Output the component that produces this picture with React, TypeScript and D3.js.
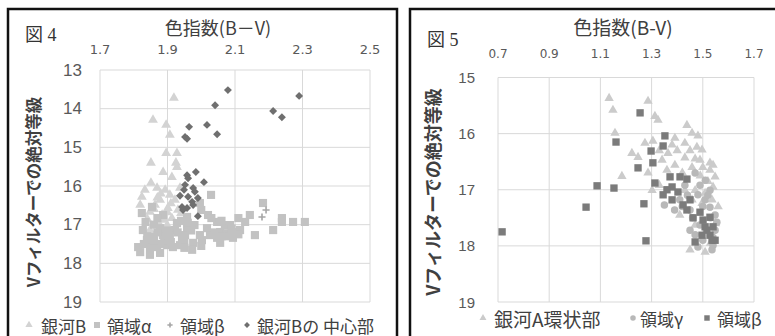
import React, { useEffect, useRef } from 'react';
import * as d3 from 'd3';

type Pt = [number, number];

// 図4 axes
const fig4XTicks = [1.7, 1.9, 2.1, 2.3, 2.5];
const fig4YTicks = [13, 14, 15, 16, 17, 18, 19];

// 図4 series: [B-V, V magnitude]
const galaxyB: Pt[] = [
  [1.919, 13.72], [1.857, 14.29], [1.896, 14.42], [1.907, 14.68], [1.896, 15.15],
  [1.928, 15.15], [1.851, 15.4], [1.925, 15.4], [1.928, 15.51], [1.887, 15.64],
  [1.851, 15.92], [1.913, 15.77], [1.869, 16.05], [1.824, 16.28], [1.893, 16.1],
  [1.907, 16.23], [1.878, 16.36], [1.922, 16.36], [1.863, 16.49], [1.901, 16.57],
  [1.931, 16.62], [1.848, 16.67], [1.884, 16.75], [1.913, 16.83], [1.872, 16.93],
  [1.937, 16.05], [1.833, 16.1], [1.899, 17.01], [1.922, 17.09], [1.848, 17.14],
  [1.819, 16.49], [1.952, 16.93], [1.88, 16.2], [1.91, 16.45], [1.86, 16.6],
  [1.89, 16.88], [1.94, 16.7], [1.84, 16.85], [1.87, 16.3], [1.9, 16.68],
];

const regionAlpha: Pt[] = [
  [1.819, 17.71], [1.848, 17.78], [1.878, 17.73], [1.869, 17.58], [1.899, 17.53],
  [1.916, 17.58], [1.839, 17.4], [1.857, 17.32], [1.887, 17.27], [1.943, 17.34],
  [1.976, 17.47], [1.973, 17.65], [2.002, 17.4], [1.996, 17.27], [2.047, 17.34],
  [2.056, 17.19], [2.076, 17.22], [2.094, 17.19], [2.056, 17.47], [2.094, 17.34],
  [2.159, 17.27], [2.213, 17.14], [2.239, 16.93], [2.272, 16.93], [2.307, 16.93],
  [2.017, 17.09], [1.958, 17.09], [1.922, 17.14], [1.827, 17.14], [1.878, 17.09],
  [1.813, 17.58], [2.029, 16.23], [2.183, 16.44], [2.144, 16.75], [1.854, 16.54],
  [1.887, 16.75], [1.958, 16.8], [1.996, 16.44], [2.02, 16.75], [2.047, 16.93],
  [2.085, 17.01], [1.928, 16.96], [2.0, 16.62], [2.03, 16.83], [1.824, 16.7],
  [1.835, 16.93], [1.86, 17.0], [1.907, 17.27], [1.937, 17.53], [1.98, 17.01],
  [2.07, 17.01], [2.115, 17.14], [2.13, 16.93], [2.11, 16.83], [1.89, 17.4],
  [1.848, 17.58], [2.026, 17.27], [1.952, 17.27], [1.87, 16.83], [2.239, 16.83],
  [1.87, 17.2], [1.9, 17.15], [1.93, 17.2], [1.95, 17.45], [1.91, 17.45],
  [1.88, 17.5], [1.84, 17.3], [1.97, 17.15], [2.04, 17.2], [2.06, 17.3],
  [2.08, 17.3], [2.11, 17.25], [2.0, 17.55], [1.95, 17.6], [1.83, 17.5],
  [1.86, 17.4], [1.94, 16.9], [1.96, 16.95], [2.06, 16.9], [2.09, 17.1],
];

const regionBeta4: Pt[] = [[2.192, 16.62], [2.18, 16.8]];

const galaxyBCore: Pt[] = [
  [2.079, 13.52], [2.041, 13.91], [2.29, 13.67], [2.213, 14.06], [2.239, 14.22],
  [1.964, 14.47], [2.017, 14.42], [2.047, 14.66], [1.952, 14.73], [1.958, 14.78],
  [1.984, 15.64], [1.958, 15.72], [1.961, 15.8], [2.008, 15.9], [1.952, 15.97],
  [1.976, 16.05], [1.981, 16.15], [1.937, 16.25], [1.961, 16.28], [1.99, 16.31],
  [1.973, 16.41], [1.943, 16.54], [1.958, 16.57], [1.976, 16.49], [1.946, 16.62],
  [1.99, 16.78], [1.949, 16.1],
];

// 図5 axes
const fig5XTicks = [0.7, 0.9, 1.1, 1.3, 1.5, 1.7];
const fig5YTicks = [15, 16, 17, 18, 19];

// 図5 series
const galaxyARing: Pt[] = [
  [1.134, 15.37], [1.286, 15.42], [1.149, 15.58], [1.313, 15.69], [1.325, 15.76],
  [1.438, 15.85], [1.458, 15.99], [1.481, 16.04], [1.157, 15.99], [1.274, 16.17],
  [1.305, 16.13], [1.391, 16.08], [1.43, 16.17], [1.477, 16.24], [1.497, 16.29],
  [1.223, 16.35], [1.247, 16.42], [1.364, 16.35], [1.43, 16.43], [1.489, 16.47],
  [1.528, 16.52], [1.54, 16.56], [1.341, 16.47], [1.391, 16.56], [1.458, 16.6],
  [1.184, 16.76], [1.286, 16.7], [1.302, 17.01], [1.43, 17.01], [1.47, 17.01],
  [1.509, 17.06], [1.536, 17.18], [1.528, 16.65], [1.548, 16.77], [1.497, 17.24],
  [1.458, 17.18], [1.45, 18.07], [1.509, 18.11], [1.33, 16.92], [1.47, 17.63],
  [1.41, 17.45], [1.4, 16.3], [1.45, 16.3], [1.5, 16.6], [1.52, 16.85],
  [1.42, 16.7], [1.36, 16.65], [1.33, 16.3], [1.38, 16.2], [1.47, 16.45],
  [1.49, 16.75], [1.54, 16.95], [1.56, 17.3], [1.55, 17.6], [1.53, 17.95],
];

const regionGamma: Pt[] = [
  [1.536, 18.07], [1.54, 17.99], [1.481, 18.02], [1.489, 16.92], [1.509, 17.18],
  [1.528, 17.31], [1.548, 17.45], [1.481, 17.09], [1.45, 17.36], [1.41, 17.18],
  [1.39, 17.36], [1.489, 17.63], [1.548, 17.72], [1.43, 16.92], [1.528, 17.01],
  [1.45, 17.72], [1.5, 17.9], [1.35, 17.27], [1.51, 16.83], [1.555, 17.58],
  [1.47, 16.7], [1.44, 17.1], [1.52, 17.1], [1.53, 17.5], [1.46, 17.5],
  [1.42, 17.3], [1.5, 17.3], [1.54, 17.85], [1.47, 17.8],
];

const regionBeta5: Pt[] = [
  [1.255, 15.63], [1.161, 16.15], [1.352, 16.04], [1.345, 16.22], [1.298, 16.31],
  [1.305, 16.52], [1.247, 16.61], [1.313, 16.88], [1.372, 16.77], [1.411, 16.77],
  [1.438, 16.81], [1.38, 16.95], [1.345, 17.09], [1.087, 16.93], [1.153, 16.97],
  [1.044, 17.31], [1.27, 17.25], [1.38, 17.18], [1.423, 17.27], [1.438, 17.36],
  [1.462, 17.5], [1.501, 17.54], [1.528, 17.49], [1.509, 17.66], [1.54, 17.66],
  [1.516, 17.72], [1.497, 17.81], [1.528, 17.81], [1.536, 17.9], [1.278, 17.91],
  [0.716, 17.75], [1.403, 17.04], [1.36, 17.0], [1.45, 17.18], [1.47, 17.93],
  [1.548, 17.9], [1.489, 17.4],
];

const CJK = '"Noto Sans CJK JP", sans-serif';

type Series = { name: string; data: Pt[]; shape: string; color: string; size: number; font?: number };

type PanelCfg = {
  left: number; right: number; top: number; bottom: number;
  xTicks: number[]; yTicks: number[];
  xTickY: number; xTickSize: number; yTickX: number; yTickSize: number;
  series: Series[];
  legendY: number;
  legend: { marker: number; text: number }[];
};

function drawMarker(g: any, shape: string, x: number, y: number, size: number, color: string) {
  if (shape === 'plus') {
    const h = Math.sqrt(size) / 2;
    g.append('path')
      .attr('d', `M${x - h},${y}H${x + h}M${x},${y - h}V${y + h}`)
      .attr('stroke', color)
      .attr('stroke-width', 1.6);
    return;
  }
  const sym =
    shape === 'triangle' ? d3.symbolTriangle :
    shape === 'square' ? d3.symbolSquare :
    shape === 'diamond' ? d3.symbolDiamond2 : d3.symbolCircle;
  g.append('path')
    .attr('d', d3.symbol().type(sym).size(size)())
    .attr('transform', `translate(${x},${y})`)
    .attr('fill', color);
}

function drawPanel(svg: any, c: PanelCfg) {
  const x = d3.scaleLinear()
    .domain([c.xTicks[0], c.xTicks[c.xTicks.length - 1]])
    .range([c.left, c.right]);
  const y = d3.scaleLinear()
    .domain([c.yTicks[0], c.yTicks[c.yTicks.length - 1]])
    .range([c.top, c.bottom]);

  const grid = svg.append('g').attr('stroke', '#d9d9d9').attr('stroke-width', 1);
  c.xTicks.forEach((t) => {
    grid.append('line').attr('x1', x(t)).attr('x2', x(t)).attr('y1', c.top).attr('y2', c.bottom);
  });
  c.yTicks.forEach((t) => {
    grid.append('line').attr('x1', c.left).attr('x2', c.right).attr('y1', y(t)).attr('y2', y(t));
  });

  c.xTicks.forEach((t) => {
    svg.append('text')
      .attr('x', x(t)).attr('y', c.xTickY)
      .attr('text-anchor', 'middle').attr('dominant-baseline', 'central')
      .attr('font-family', '"DejaVu Sans", sans-serif').attr('font-size', c.xTickSize)
      .attr('fill', '#595959')
      .text(t.toFixed(1));
  });
  c.yTicks.forEach((t) => {
    svg.append('text')
      .attr('x', c.yTickX).attr('y', y(t))
      .attr('text-anchor', 'end').attr('dominant-baseline', 'central')
      .attr('font-family', '"Liberation Sans", Arial, sans-serif').attr('font-size', c.yTickSize)
      .attr('fill', '#595959')
      .text(t);
  });

  c.series.forEach((s) => {
    const g = svg.append('g');
    s.data.forEach((d) => drawMarker(g, s.shape, x(d[0]), y(d[1]), s.size, s.color));
  });

  c.series.forEach((s, i) => {
    const l = c.legend[i];
    drawMarker(svg, s.shape, l.marker, c.legendY, s.size * 0.55, s.color);
    svg.append('text')
      .attr('x', l.text).attr('y', c.legendY)
      .attr('dominant-baseline', 'central')
      .attr('font-family', CJK).attr('font-size', s.font || 17)
      .attr('fill', '#404040')
      .text(s.name);
  });
}

const App = () => {
  const ref = useRef<SVGSVGElement>(null);

  useEffect(() => {
    const svg = d3.select(ref.current);
    svg.selectAll('*').remove();
    svg.append('rect').attr('width', 775).attr('height', 336).attr('fill', '#fff');

    // frames
    svg.append('path')
      .attr('d', 'M8,340V9H397V340')
      .attr('fill', 'none').attr('stroke', '#111').attr('stroke-width', 2.5);
    svg.append('path')
      .attr('d', 'M410,340V9H780')
      .attr('fill', 'none').attr('stroke', '#111').attr('stroke-width', 2.5);

    drawPanel(svg, {
      left: 100, right: 370, top: 70, bottom: 302,
      xTicks: fig4XTicks, yTicks: fig4YTicks,
      xTickY: 49, xTickSize: 13, yTickX: 82, yTickSize: 17,
      series: [
        { name: '銀河B', data: galaxyB, shape: 'triangle', color: '#d3d3d3', size: 42 },
        { name: '領域α', data: regionAlpha, shape: 'square', color: '#c2c2c2', size: 66 },
        { name: '領域β', data: regionBeta4, shape: 'plus', color: '#a6a6a6', size: 50 },
        { name: '銀河Bの 中心部', data: galaxyBCore, shape: 'diamond', color: '#6f6f6f', size: 40 },
      ],
      legendY: 325,
      legend: [
        { marker: 29, text: 41 }, { marker: 97, text: 107 },
        { marker: 170, text: 180 }, { marker: 247, text: 257 },
      ],
    });

    drawPanel(svg, {
      left: 498, right: 754, top: 77.5, bottom: 302,
      xTicks: fig5XTicks, yTicks: fig5YTicks,
      xTickY: 54, xTickSize: 12, yTickX: 475, yTickSize: 15,
      series: [
        { name: '銀河A環状部', data: galaxyARing, shape: 'triangle', color: '#cbcbcb', size: 38, font: 19 },
        { name: '領域γ', data: regionGamma, shape: 'circle', color: '#b8b8b8', size: 44 },
        { name: '領域β', data: regionBeta5, shape: 'square', color: '#7b7b7b', size: 54 },
      ],
      legendY: 318,
      legend: [
        { marker: 483, text: 494 }, { marker: 633, text: 640 }, { marker: 707, text: 717 },
      ],
    });

    // figure numbers
    svg.append('text').attr('x', 25).attr('y', 35)
      .attr('dominant-baseline', 'central')
      .attr('font-family', '"Liberation Serif", "Noto Sans CJK JP", serif').attr('font-size', 18)
      .attr('fill', '#333').text('図 4');
    svg.append('text').attr('x', 427).attr('y', 40)
      .attr('dominant-baseline', 'central')
      .attr('font-family', '"Liberation Serif", "Noto Sans CJK JP", serif').attr('font-size', 18)
      .attr('fill', '#333').text('図 5');

    // axis titles
    svg.append('text').attr('x', 218).attr('y', 27)
      .attr('text-anchor', 'middle').attr('dominant-baseline', 'central')
      .attr('font-family', CJK).attr('font-size', 18).attr('fill', '#404040')
      .text('色指数(B－V)');
    svg.append('text').attr('x', 623).attr('y', 26)
      .attr('text-anchor', 'middle').attr('dominant-baseline', 'central')
      .attr('font-family', CJK).attr('font-size', 19).attr('fill', '#404040')
      .text('色指数(B-V)');

    svg.append('text')
      .attr('transform', 'translate(33,192) rotate(-90)')
      .attr('text-anchor', 'middle').attr('dominant-baseline', 'central')
      .attr('font-family', CJK).attr('font-size', 16.5).attr('font-weight', 'bold').attr('fill', '#404040')
      .text('Vフィルターでの絶対等級');
    svg.append('text')
      .attr('transform', 'translate(432,192) rotate(-90)')
      .attr('text-anchor', 'middle').attr('dominant-baseline', 'central')
      .attr('font-family', CJK).attr('font-size', 18).attr('font-weight', 'bold').attr('fill', '#404040')
      .text('Vフィルターでの絶対等級');
  }, []);

  return (
    <div style={{ position: 'fixed', left: 0, top: 0 }}>
      <svg ref={ref} width={775} height={336} style={{ display: 'block' }} />
    </div>
  );
};

export default App;
